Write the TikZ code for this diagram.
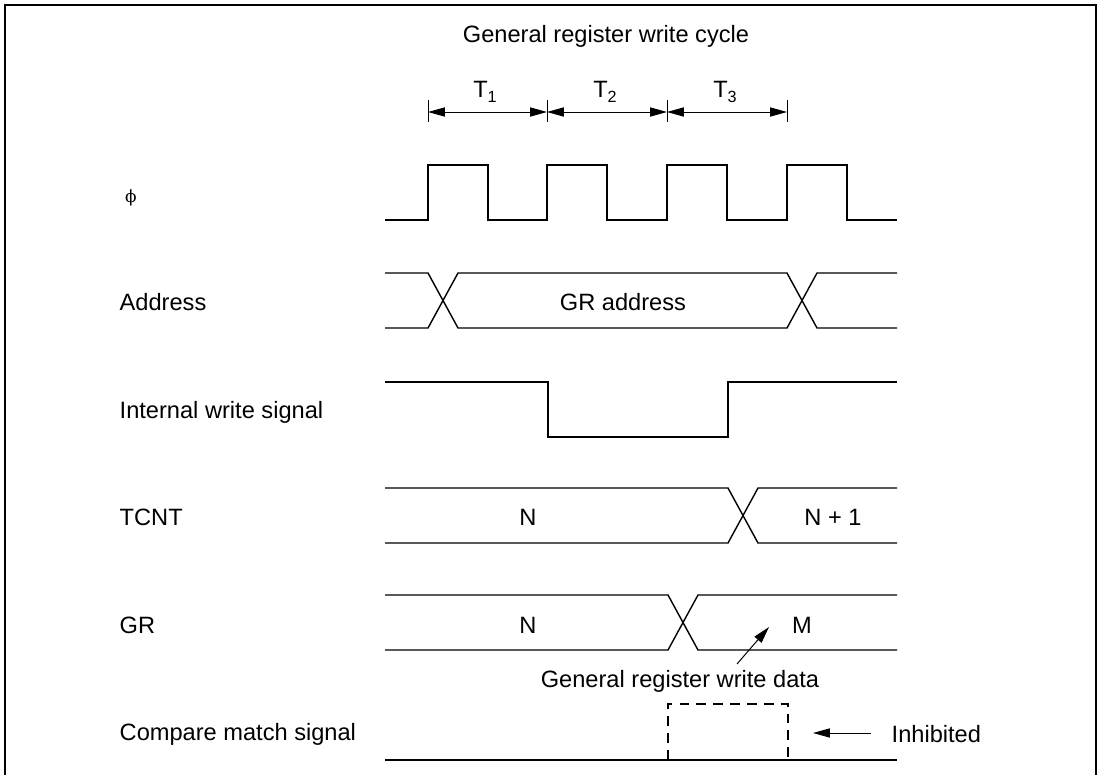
\documentclass[tikz,border=0pt]{standalone}
\usepackage{fontspec}
\setmainfont{Liberation Sans}
\newfontfamily\phifont{DejaVu Serif}
\usetikzlibrary{arrows.meta}

\newcommand{\tsub}[1]{T\raisebox{-3pt}{\fontsize{11.5}{12}\selectfont #1}}

\begin{document}
\begin{tikzpicture}[x=0.025cm, y=-0.025cm, line width=1pt,
    every node/.style={font=\fontsize{16.8}{20}\selectfont, inner sep=0pt, anchor=base},
    siglabel/.style={anchor=base west},
    tip/.style={line width=0.7pt, -{Triangle[length=12pt,width=6.5pt]}},
    span/.style={line width=0.7pt, {Triangle[length=12pt,width=6.5pt]}-{Triangle[length=12pt,width=6.5pt]}}]
  \useasboundingbox (0,0) rectangle (1101,775);
  % Frame
  \draw[line width=1.4pt] (5,775) -- (5,5) -- (1096,5) -- (1096,775);
  % Title and cycle states
  \node (title) at (606,43) {General register write cycle};
  \coordinate (t0) at (428,112);
  \coordinate (t1) at (547,112);
  \coordinate (t2) at (667,112);
  \coordinate (t3) at (787,112);
  \draw[line width=0.7pt] (428,100) -- (428,122);
  \draw[line width=0.7pt] (547,100) -- (547,122);
  \draw[line width=0.7pt] (667,100) -- (667,122);
  \draw[line width=0.7pt] (787,100) -- (787,122);
  \draw[span] (t0) -- (t1);
  \draw[span] (t1) -- (t2);
  \draw[span] (t2) -- (t3);
  \node (T1) at (485,98) {\tsub{1}};
  \node (T2) at (605,98) {\tsub{2}};
  \node (T3) at (725,98) {\tsub{3}};
  % Signal names
  \node[anchor=center, font=\fontsize{12}{14}\phifont] (phi) at (131,198) {ϕ};
  \node[siglabel] (addr) at (119,310) {Address};
  \node[siglabel] (wr) at (119,418) {Internal write signal};
  \node[siglabel] (tcnt) at (119,525) {TCNT};
  \node[siglabel] (gr) at (119,633) {GR};
  \node[siglabel] (cmp) at (119,740) {Compare match signal};
  % Clock
  \draw (385,220) -- (428,220) -- (428,165) -- (488,165) -- (488,220) -- (547,220)
    -- (547,165) -- (607,165) -- (607,220) -- (667,220) -- (667,165) -- (727,165)
    -- (727,220) -- (787,220) -- (787,165) -- (847,165) -- (847,220) -- (897,220);
  % Address bus
  \draw (385,273) -- (428,273) -- (458,328) -- (787,328) -- (817,273) -- (897,273);
  \draw (385,328) -- (428,328) -- (458,273) -- (787,273) -- (817,328) -- (897,328);
  \node (graddr) at (623,310) {GR address};
  % Internal write signal
  \draw (385,382) -- (548,382) -- (548,437) -- (728,437) -- (728,382) -- (897,382);
  % TCNT
  \draw (385,488) -- (728,488) -- (758,543) -- (897,543);
  \draw (385,543) -- (728,543) -- (758,488) -- (897,488);
  \node (tcntN) at (528,525) {N};
  \node (tcntN1) at (833,525) {N + 1};
  % GR
  \draw (385,595) -- (668,595) -- (698,650) -- (897,650);
  \draw (385,650) -- (668,650) -- (698,595) -- (897,595);
  \node (grN) at (528,633) {N};
  \node (grM) at (802,633) {M};
  \node (wdata) at (680,687) {General register write data};
  \coordinate (wtail) at (737,664);
  \coordinate (whead) at (769,627);
  \draw[tip] (wtail) -- (whead);
  % Compare match signal
  \draw (385,760) -- (897,760);
  \draw[dashed, dash pattern=on 7pt off 5pt] (668,760) -- (668,704) -- (788,704) -- (788,760);
  \node[anchor=base west] (inh) at (891,742) {Inhibited};
  \coordinate (itail) at (871,733);
  \coordinate (ihead) at (813,733);
  \draw[tip] (itail) -- (ihead);
\end{tikzpicture}
\end{document}
